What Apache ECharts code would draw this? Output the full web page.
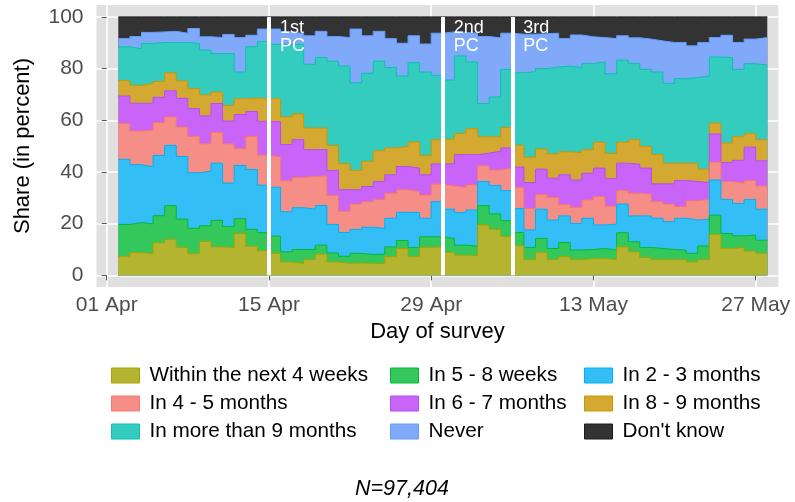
<!DOCTYPE html>
<html><head><meta charset="utf-8">
<script src="https://cdn.jsdelivr.net/npm/echarts@6/dist/echarts.min.js"></script>
<style>html,body{margin:0;padding:0;background:#fff}#c{width:795px;height:502px}</style>
</head><body><div id="c"></div>
<script>
// first survey day = 2 April (day index 1, counted from 01 Apr = 0); one value per day
const firstDay = 1;
const seriesNames = ['Within the next 4 weeks','In 5 - 8 weeks','In 2 - 3 months','In 4 - 5 months','In 6 - 7 months','In 8 - 9 months','In more than 9 months','Never',"Don't know"];

const within4w = [7.4,8.8,8.4,12.6,13.9,10.8,8.4,13.1,11.0,10.8,16.2,11.3,9.5, 8.5,5.2,4.6,6.1,8.2,5.2,4.6,4.8,4.6,4.6,7.2,10.4,7.2,10.8,11.0, 8.9,7.8,7.6,19.5,17.8,15.0, 11.5,6.1,8.9,6.1,7.2,6.1,6.5,6.5,6.1, 11.0,9.1,6.9,6.1,6.1,6.1,5.2,6.1,15.8,10.4,10.8,9.4,8.5];
const weeks5to8 = [12.3,11.6,11.5,10.5,13.1,11.0,9.8,6.1,10.3,8.1,5.7,6.5,7.0, 6.7,3.9,5.4,3.9,3.5,3.5,2.8,3.7,3.5,3.6,3.8,3.1,3.6,4.1,3.9, 5.4,3.9,3.7,7.5,6.0,6.2, 5.1,4.7,5.4,4.3,5.5,3.7,3.5,3.9,3.7, 5.5,3.9,3.9,4.3,3.9,3.7,3.3,5.3,7.5,5.8,4.5,6.2,5.1];
const months2to3 = [25.2,22.4,22.2,23.3,23.3,24.2,21.5,21.1,22.1,16.8,20.6,23.2,18.4, 18.9,15.5,16.2,15.6,15.3,11.0,9.2,9.3,10.5,10.0,11.1,10.9,13.5,7.2,13.6, 11.3,12.6,14.0,9.3,11.0,11.6, 9.3,6.8,11.3,11.0,10.3,10.3,12.1,9.1,10.0, 11.1,10.0,12.2,11.7,10.8,12.3,12.9,10.3,13.6,13.2,12.5,13.8,12.0];
const months4to5 = [13.9,13.1,14.1,12.7,11.0,11.4,14.1,10.6,11.9,15.2,6.5,12.8,11.6, 11.7,12.0,11.7,12.7,11.5,11.3,8.2,9.8,9.9,11.2,9.7,8.7,8.1,9.0,6.8, 9.0,9.8,9.7,6.1,6.0,8.7, 8.1,8.3,5.7,8.8,4.4,6.2,7.1,11.0,7.0, 5.2,8.8,8.4,6.4,6.8,4.5,7.5,7.7,6.9,6.9,7.9,7.3,9.0];
const months6to7 = [10.6,10.7,10.4,9.8,10.1,11.1,10.7,10.8,11.2,8.8,13.2,9.6,13.1, 13.6,14.0,14.6,10.3,10.1,9.6,8.3,5.5,5.9,6.9,7.1,9.0,9.1,7.8,7.8, 8.6,12.6,11.7,4.9,7.2,7.8, 7.9,10.0,9.8,7.4,11.5,10.6,10.3,11.0,10.6, 10.6,11.2,10.1,6.9,7.8,10.1,7.4,6.5,10.9,7.4,8.8,12.9,9.7];
const months8to9 = [5.9,6.9,7.6,6.1,6.9,6.7,7.7,8.1,4.4,6.0,6.1,5.2,8.7, 8.9,10.7,10.0,8.4,8.4,9.7,10.1,7.5,9.7,11.9,10.4,7.8,10.1,7.5,9.4, 9.6,8.2,10.0,6.3,5.6,7.9, 8.4,9.8,7.8,9.4,8.9,10.6,9.1,10.0,9.8, 8.1,9.5,8.4,11.3,8.0,6.7,7.1,5.2,4.2,7.5,9.1,5.2,8.2];
const moreThan9 = [13.1,14.2,15.5,15.1,11.8,14.9,17.5,17.4,14.9,20.1,10.4,19.9,22.2, 21.1,28.1,26.9,24.7,27.3,32.6,37.8,33.9,34.1,34.7,31.1,27.2,30.7,32.3,24.9, 22.8,30.0,25.9,12.9,15.4,22.5, 28.1,33.1,31.1,33.6,33.2,32.9,33.4,31.1,30.8, 31.8,29.5,29.8,32.0,30.9,32.7,33.1,36.0,25.6,33.1,26.1,27.1,28.9];
const never = [3.2,4.7,4.3,4.1,4.3,3.6,5.8,5.1,6.2,7.4,13.3,4.4,4.8, 5.9,4.8,4.1,11.0,10.1,9.5,11.0,20.8,14.5,11.5,11.2,12.7,10.4,10.8,16.3, 18.6,9.1,11.1,25.9,22.9,14.0, 14.9,14.5,13.5,13.1,10.6,12.6,10.3,9.4,13.6, 9.4,9.9,11.7,12.0,15.8,14.0,12.3,13.0,7.5,8.6,10.4,9.5,10.6];
const dontKnow = [8.4,7.6,6.0,5.8,5.6,6.3,4.5,7.7,8.0,6.8,8.0,7.1,4.7, 4.7,5.8,6.5,7.3,5.6,7.6,8.0,4.7,7.3,5.6,8.4,10.2,7.3,10.5,6.3, 5.8,6.0,6.3,7.6,8.1,6.3, 6.7,6.7,6.5,6.3,8.4,7.0,7.7,8.0,8.4, 7.3,8.1,8.6,9.3,9.9,9.9,11.2,9.9,8.0,7.1,9.9,8.6,8.0];

const tickDays = [0,14,28,42,56];
const tickLabels = ['01 Apr','15 Apr','29 Apr','13 May','27 May'];
const yTicks = [0,20,40,60,80,100];
const pcDays = [14,29,35];
const pcLabels = ['1st\nPC','2nd\nPC','3rd\nPC'];
const sampleNote = 'N=97,404';

const allValues = [within4w,weeks5to8,months2to3,months4to5,months6to7,months8to9,moreThan9,never,dontKnow];
const fills = ['#B4B431','#33C75C','#33BEF5','#F58E87','#C865F8','#D4A932','#33CCBF','#80AAF9','#333333'];
const edges = ['#A3A500','#00BA38','#00B0F6','#F8766D','#B54CF5','#CD9600','#10BFB0','#619CFF','#1A1A1A'];
const FONT = "'Liberation Sans', Arial, sans-serif";

// running totals (stacking): each band drawn from 0 to its cumulative top,
// upper bands first so lower bands paint over them
const cumulative = [];
allValues.forEach((vals,i)=>{
  cumulative.push(vals.map((v,j)=> (i ? cumulative[i-1][j] : 0) + v));
});

function stepData(vals){
  const d = vals.map((v,i)=>[firstDay+i, v]);
  d.push([firstDay+vals.length, vals[vals.length-1]]); // close last day
  return d;
}

const series = [];
for (let i = allValues.length-1; i >= 0; i--) {
  series.push({
    name: seriesNames[i], type:'line', step:'end', symbol:'none',
    data: stepData(cumulative[i]),
    itemStyle:{color:fills[i]},
    lineStyle:{color:edges[i], width:1},
    areaStyle:{color:fills[i], opacity:1, origin:0},
    emphasis:{disabled:true}, z:2
  });
}

series.push({
  type:'scatter', symbolSize:0, z:6, silent:true,
  itemStyle:{color:'#fff'},
  data: pcDays.map((d,i)=>({value:[d,100], label:{formatter:pcLabels[i]}})),
  label:{show:true, position:[11,2], color:'#FFFFFF', opacity:1, textBorderWidth:0, fontSize:18, lineHeight:18, fontFamily:FONT, align:'left', verticalAlign:'top'},
  markLine:{silent:true, symbol:'none', label:{show:false},
    lineStyle:{color:'#fff', width:4, type:'solid', opacity:1},
    data: pcDays.map(d=>[{coord:[d,0]},{coord:[d,100]}])}
});

const cols = [[0,3,6],[1,4,7],[2,5,8]];
const colLeft = [111,390,584];
const legends = cols.map((c,k)=>({
  orient:'vertical', left:colLeft[k], top:365, padding:0, itemGap:7,
  itemWidth:28, itemHeight:15, icon:'rect', selectedMode:false,
  textStyle:{fontSize:20.7, lineHeight:21, color:'#000', fontFamily:FONT, padding:[0,0,0,5]},
  data: c.map(i=>({name:seriesNames[i], icon:'rect', itemStyle:{color:fills[i], borderColor:edges[i], borderWidth:1}}))
}));

const chart = echarts.init(document.getElementById('c'), null, {renderer:'canvas'});
chart.setOption({
  animation:false,
  backgroundColor:'#fff',
  title:{text:sampleNote, left:355, top:478, padding:0,
    textStyle:{fontSize:21.5, fontStyle:'italic', fontWeight:'normal', color:'#000', fontFamily:FONT}},
  grid:{left:96.5, right:16.7, top:5, bottom:215, show:true, backgroundColor:'#E0E0E0', borderWidth:0},
  legend: legends,
  xAxis:{type:'value', min:-0.88, max:57.95,
    name:'Day of survey', nameLocation:'middle', nameGap:31,
    nameTextStyle:{fontSize:22, color:'#000', fontFamily:FONT},
    axisLine:{show:false},
    axisTick:{show:true, length:5, customValues:tickDays, lineStyle:{color:'#555'}},
    axisLabel:{customValues:tickDays, margin:8, fontSize:21, color:'#4D4D4D', fontFamily:FONT,
      formatter:v=>tickLabels[tickDays.indexOf(v)] || ''},
    splitLine:{show:true, lineStyle:{color:'#fff', width:1.6}}
  },
  yAxis:{type:'value', min:-4.5, max:104.6,
    name:'Share (in percent)', nameLocation:'middle', nameGap:63, nameRotate:90,
    nameTextStyle:{fontSize:22, color:'#000', fontFamily:FONT},
    axisLine:{show:false},
    axisTick:{show:true, length:5, customValues:yTicks, lineStyle:{color:'#555'}},
    axisLabel:{customValues:yTicks, margin:13, fontSize:21, color:'#4D4D4D', fontFamily:FONT},
    splitLine:{show:true, lineStyle:{color:'#fff', width:1.6}}
  },
  series: series
});
</script></body></html>
